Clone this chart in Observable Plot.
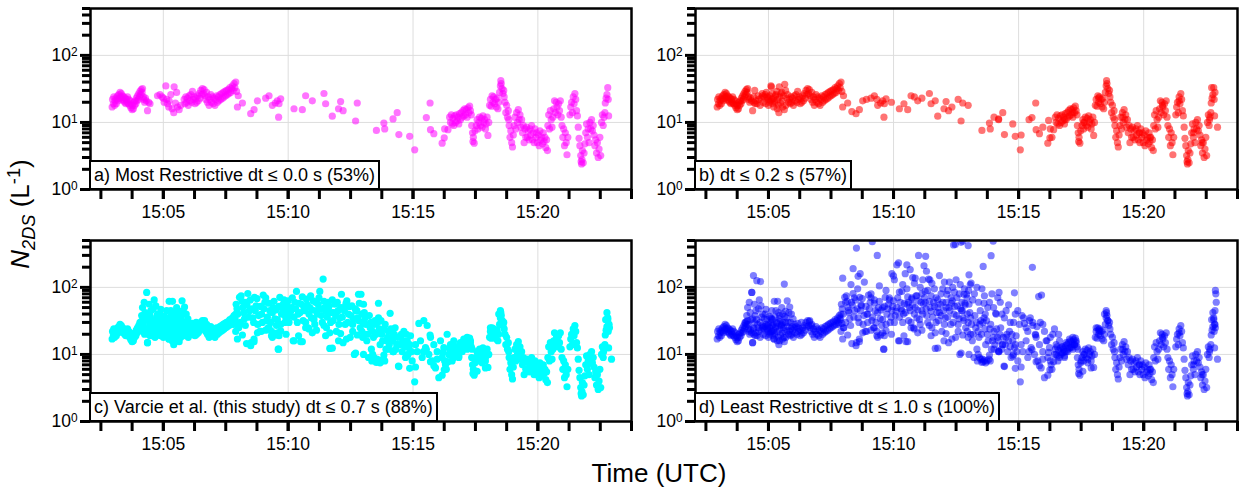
<!DOCTYPE html>
<html>
<head>
<meta charset="utf-8">
<script src="https://cdn.jsdelivr.net/npm/d3@7"></script>
<script src="https://cdn.jsdelivr.net/npm/@observablehq/plot@0.6"></script>
<style>
  html, body { margin: 0; padding: 0; background: white; }
  #fig { position: relative; width: 1240px; height: 492px; font-family: "Liberation Sans", Arial, sans-serif; color: black; overflow: hidden; background: white; }
  .panel { position: absolute; }
  .tag { position: absolute; background: white; border: 2px solid black; font-size: 18px; line-height: 22px; padding: 2px 3px; white-space: nowrap; }
  .ytitle { position: absolute; left: 22px; top: 214px; transform: translate(-50%, -50%) rotate(-90deg); font-size: 26px; white-space: nowrap; }
  .xtitle { position: absolute; left: 659px; top: 458px; transform: translateX(-50%); font-size: 26px; white-space: nowrap; }
  .panel svg g[aria-label*="tick"]:not([aria-label*="label"]),
  .panel svg g[aria-label*="tick"]:not([aria-label*="label"]) * { stroke: black !important; stroke-width: 3px !important; }
</style>
</head>
<body>
<div id="fig"></div>
<script>
// Time values are seconds after 15:00:00 UTC; values are N_2DS in L^-1
const panelLabels = [
  "a) Most Restrictive dt \u2264 0.0 s (53%)",
  "b) dt \u2264 0.2 s (57%)",
  "c) Varcie et al. (this study) dt \u2264 0.7 s (88%)",
  "d) Least Restrictive dt \u2264 1.0 s (100%)"
];
const panelColors = ["#ff00ff", "#ff0000", "#00ffff", "#0000ff"];
const panelOpacity = [0.55, 0.55, 1, 0.5];
const xTickLabels = ["15:05", "15:10", "15:15", "15:20"];
const yMajorTicks = [1, 10, 100];

// panel a points (most restrictive)
const ptsA = [
[177,17],[178,22],[180,19],[181,24],[183,18],[184,21],[186,23],[187,19],[189,22],[190,25],[192,21],[193,26],[195,23],[196,28],[198,24],[199,27],[201,22],[202,25],[204,21],[205,24],[207,20],[208,23],[210,19],[211,22],[213,20],[214,24],[216,19],[217,22],[219,18],[220,21],[222,16.5],[223,19],[225,15.5],[226,18],[228,16],[229,20],[231,18],[232,21],[234,19],[235,23],[237,21],[238,25],[240,22],[241,27],[243,24],[244,29],[246,26],[247,31],[249,28],[250,32],[252,24],[253,22],[255,20],[257,23],[259,21],[262,15],[265,20],[268,19],
[286,25],[292,26],[297,24],[300,23],[302,20],[306,35],[308,22],[310,19],[313,17],[314,21],[318,26],[321,16],[325,14],[326,34],[329,19.5],[332,28],[334,17],[338,15.5],[342,18],
[350,22],[352,19],[354,24],[356,20],[358,23],[360,18],[362,25],[364,21],[366,26],[368,20],[370,29],[372,22],[374,24],[376,19],[378,23],[380,20],[382,25],[384,21],[386,27],[388,23],[390,30],[392,26],[394,32],[396,27],[398,31],[400,25],[402,22],[404,28],[406,20],[408,24],[410,18],[412,22],[414,26],[416,20],[418,24],[420,19],[422,23],[424,18],[426,22],[428,25],[430,20],[432,24],[434,21],[436,26],[438,22],[440,27],[442,23],[444,28],[446,24],[448,29],[450,25],[452,30],[454,26],[456,31],[458,27],[460,33],[462,28],[464,32],[466,35],[468,30],[470,38],[472,33],[474,40],[476,29],[478,17],[480,25],
[490,19.5],[510,13.5],[518,15.5],[526,21],[546,23],[554,25],[562,18],[569,19.5],[574,21],[577,12],[578,19],[582,22.5],[614,16],[634,15.5],[642,25],[658,21],[686,27],[690,19],[706,12.4],[721,16],[726,20.5],[732,15],[762,10.5],[766,19.5],
[812,7.6],[830,9.8],[832,8],[852,11.3],[862,14],[866,6.6],[892,6.2],[904,3.9],[932,11.8],[941,19.5],[942,7.8],[950,6.8],[970,4.9],[975,5.9],[976,8],[984,7.8],
[988,12],[990,10],[992,13],[994,9.5],[996,11.5],[998,9],[1000,12.5],[1002,10],[1004,13],[1006,10.5],[1008,12],[1010,9.5],[1012,13.5],[1014,11],[1016,14],[1018,12],[1020,15],[1022,12.5],[1024,16],[1026,13],[1028,15.5],[1030,12],[1032,16.5],[1034,14],[1036,17.5],[1038,15],[1040,13],
[1041,9],[1043,7],[1044,5.2],[1045,6],[1047,4.9],[1049,7.5],
[1052,9],[1054,11],[1056,8],[1058,10],[1060,12],[1062,9],[1064,11.5],[1066,8.5],[1068,12.5],[1070,10],[1072,11],[1074,8],[1076,9.5],[1078,12],[1080,6.4],[1082,10],
[1084,18],[1086,22],[1088,17.5],[1090,25],[1092,20],[1094,24],[1096,19],[1098,22],[1100,17],[1102,23],[1104,16],[1106,20],[1108,28],[1110,35],[1111,42],[1112,38],[1114,32],[1116,27],[1118,30],[1119,24],[1121,20],[1123,14],[1125,18],[1127,12],[1129,15],[1130,11],
[1131,9],[1133,6],[1135,7.5],[1137,5],[1139,4.3],[1141,6.5],
[1143,9],[1145,12],[1147,8],[1149,14],[1151,10],[1153,15.5],[1155,11],[1157,13],[1159,8.5],
[1161,11],[1163,7],[1165,9],[1167,5],[1169,8],[1171,6],
[1173,8.5],[1175,6],[1177,7.5],[1179,5.5],[1181,8],[1183,6.5],[1185,9],[1187,5.5],[1189,7],[1191,5],[1193,8],[1195,6],
[1197,7],[1199,5],[1201,6.5],[1203,4.5],[1205,7.5],[1207,5.5],[1209,6],[1211,4.8],[1213,7],[1215,5.2],[1217,6],[1219,4.2],[1221,5.5],[1223,3.8],
[1224,9],[1226,13],[1228,8],[1230,15],[1232,11],[1234,8.5],[1236,12],
[1238,16],[1240,21],[1242,14],[1244,20],[1246,17],[1248,13],[1250,19],[1252,15],[1254,21],[1256,12],
[1258,9],[1260,6],[1262,8],[1264,4.5],[1266,7],[1268,5],[1270,3.3],[1272,6],
[1277,13],[1279,17],[1281,20],[1283,14],[1285,24],[1287,19],[1289,27],[1291,22],[1293,15],[1295,12.5],
[1297,8.5],[1299,5.8],
[1301,4.5],[1303,3.2],[1304,2.6],[1305,2.4],[1306,2.8],[1307,3.8],[1309,2.5],[1311,3.5],[1313,4.8],
[1315,7],[1317,9.5],[1319,6],[1321,8],[1323,5],[1325,10],[1327,8],[1329,11],[1331,7.5],[1333,9],
[1335,6.5],[1337,4.5],[1339,5.5],[1341,3.5],[1343,5],[1345,3],[1347,4],[1349,6],[1351,3.2],
[1353,10],[1355,13],[1357,9],[1359,12],[1361,14],[1362,19.5],[1364,23],[1366,26],[1368,33],[1369,22],[1370,12.5]
];

// extra points accepted at dt <= 0.2 s
const addB = [
[264,24],[267,30],[270,21],[272,19],[275,25],[277,22],[280,18],[282,23],[285,27],[287,20],[290,24],[293,19],[295,28],[298,22],[300,18],[303,25],[305,21],[307,34],[309,27],[312,23],[315,20],[317,25],[320,29],[322,22],[324,18],[327,24],[330,27],[333,21],[336,25],[339,37],[341,30],[344,23],[346,26],[348,20],
[500,14.5],[535,22],[560,22],[595,20],[625,19],[650,24],[668,23],[700,21],[740,17],[755,22],[779,18],[841,12],[852,11],[886,9.5],[906,6.5],[925,11],[958,8.5],[972,10.7],[980,6],
[1010,11],[1030,14],[1056,10],[1092,23],[1150,12],[1190,7],[1215,6],[1245,18],[1285,21],[1320,7],[1340,5],[1358,11],[1363,33],[1371,28],[1377,8.5]
];

// extra points accepted at dt <= 0.7 s
const addC = [
[250,50],[254,60],[260,84],[262,34],[262,15],[265,25],[266,56],[270,45],[274,28],[278,65],[282,53],[286,40],[290,34],[294,47],[298,27],[305,30],[306,22],[314,62],[314,17],[318,45],[322,62],[327,38],[327,16],[332,50],[335,30],[337,18],[339,22],[345,63],[351,51],[355,40],[359,34],[363,28],[371,25],[379,30],[399,32],[403,27],
[244,30],[248,38],[252,28],[256,42],[258,33],[268,38],[272,33],[276,48],[280,30],[284,36],[288,26],[292,40],[296,33],[300,28],[302,37],[308,45],[310,33],[312,28],[316,36],[320,30],[324,42],[328,31],[331,27],[334,40],[341,44],[343,35],[347,30],[349,42],[353,30],[357,26],
[469,28],[474,22],[475,56],[479,40],[481,25],[483,71],[487,75],[491,50],[495,34],[499,60],[503,81],[507,45],[511,15],[515,35],[518,17],[519,71],[523,53],[527,28],[532,22],[536,40],[540,77],[544,60],[548,32],[552,25],[556,45],[560,19],[564,50],[568,34],[572,27],[576,12],[580,71],[584,40],[588,56],[592,30],[596,45],[600,63],[604,38],
[472,35],[477,48],[485,30],[489,62],[493,42],[497,27],[501,55],[505,36],[509,65],[513,48],[517,30],[521,45],[525,68],[529,38],[534,52],[538,30],[542,48],[546,70],[550,36],[554,58],[558,30],[562,42],[566,62],[570,46],[574,33],[578,52],[582,28],[586,48],[590,65],[594,36],[598,52],[602,30],
[608,50],[612,16],[616,60],[620,87],[624,40],[630,15.5],[632,56],[636,32],[640,45],[644,67],[648,25],[652,50],[656,35],[660,63],[664,28],[668,45],[672,56],[676,87],[680,38],[684,133],[688,50],[692,25],[696,60],[700,12.3],[704,42],[708,32],[712,56],[716,22],[720,45],[724,35],[728,79],[733,50],[737,28],[741,63],[745,40],[749,18],[753,53],[757,34],[759,10],[763,45],[769,79],[773,25],[777,40],[781,56],[785,20],
[606,44],[610,70],[614,36],[618,48],[622,30],[626,58],[628,42],[634,72],[638,50],[642,30],[646,55],[650,40],[654,75],[658,46],[662,33],[666,60],[670,40],[674,70],[678,48],[682,30],[686,62],[690,44],[694,36],[698,52],[702,30],[706,65],[710,42],[714,38],[718,60],[722,28],[726,50],[730,36],[735,45],[739,58],[743,30],[747,52],[751,38],[755,28],[761,48],[767,35],[771,58],[779,30],[783,42],[787,28],
[765,45],[769,32],[775,79],[777,22],[781,10],[785,35],[789,16],[793,9],[797,25],[801,8],[805,18],[809,32],[813,8.5],[817,58],[817,35],[821,14],[825,20],[829,8.5],[833,28],[837,16],[841,22],[845,41],[849,18],[853,11],[857,25],[861,14],[865,6.7],[870,18],[874,11],[878,22],[882,9],[886,16],[890,12.6],[894,19],[898,8],
[791,20],[795,38],[799,30],[803,22],[807,28],[811,20],[815,30],[819,24],[823,32],[827,16],[831,24],[835,12],[839,18],[843,14],[847,24],[851,16],[855,20],[859,12],[863,18],[868,14],[872,20],[876,16],[880,13],[884,20],[888,10],[892,14],[896,11],
[800,12],[803,10],[806,9],[809,8.5],[815,7.8],[818,8.2],[821,7.5],[824,8],
[906,14],[910,11],[914,29],[918,16],[922,9],[926,32],[930,12.6],[934,27],[938,10],[942,18],[946,8],[950,14],[954,6.3],[958,11],[962,4.5],[966,16],[970,9],[974,12.6],[978,7],[982,20],[986,10],[990,14],[994,8],[998,16],[1002,10.6],[1006,13],[1010,9],[1014,15],[1018,11],[1022,17],[1026,12.6],[1030,18],[1034,14],[1038,16],[1042,12],
[1050,8],[1054,5.6],[1066,7.5],[1074,6.3],[1086,25],[1094,22],[1106,40],[1110,45],[1114,32],
[1366,42],[1368,35],[1370,28],[1372,25]
];

// extra points accepted at dt <= 1.0 s
const addD = [
[260,84],[264,150],[272,126],[281,122],[338,112],[478,137],[503,190],[511,385],[515,146],[520,160],[549,480],[561,300],[596,160],[600,148],[608,216],[612,232],[628,160],[632,216],[640,184],[652,137],[660,300],[673,210],[677,290],[679,174],[687,130],[744,430],[748,436],[762,470],[766,488],[779,420],[781,154],[786,116],[815,205],[834,297],[839,488],[853,84],[890,83],[933,199],[948,73],[955,77],
[485,60],[492,45],[498,110],[506,70],[514,95],[522,55],[530,120],[538,40],[546,80],[554,65],[566,105],[574,50],[582,90],[590,70],[602,130],[614,85],[622,110],[636,60],[646,140],[656,75],[664,100],[670,130],[682,90],[692,115],[702,70],[710,150],[718,95],[726,60],[734,120],[746,85],[752,70],[760,110],[772,55],[780,90],[790,65],[800,100],[808,45],[818,75],[826,50],[836,80],[846,40],[856,60],[866,35],[876,55],[888,30],[898,45],[908,38],[918,25],[928,35],[940,20],[952,30],[962,22],[976,18],[996,20],
[620,45],[632,95],[644,70],[650,115],[668,80],[676,60],[690,75],[698,95],[706,50],[714,80],[722,120],[730,90],[738,70],[742,100],[750,130],[758,80],[764,60],[770,95],[776,70],[784,110],[794,80],[804,60],[812,95],[820,40],[830,60],[840,50],[850,70],[860,40],[870,45],[880,30],[892,40],[902,28],[912,35],[922,22],[934,30],[944,26],[958,28],[968,16],[986,24],
[1371,45],[1372,90],[1373,80],[1374,60]
];

const ptsB = ptsA.concat(addB);
const ptsC = ptsB.concat(addC);
const ptsD = ptsC.concat(addD);
const panelData = [ptsA, ptsB, ptsC, ptsD];

const base = Date.UTC(2000, 0, 1, 15, 0, 0);
const toDate = s => new Date(base + s * 1000);
const parseHM = d3.utcParse("%H:%M");
const majorX = xTickLabels.map(t => { const p = parseHM(t); return toDate(p.getUTCHours() * 3600 + p.getUTCMinutes() * 60 - 15 * 3600); });
const minorX = d3.range(150, 1426, 75).map(toDate);
const minorY = [2,3,4,5,6,7,8,9,20,30,40,50,60,70,80,90,200,300,400,500];

const fig = document.getElementById("fig");
const layout = [
  {left: 0, top: 0, width: 640, ml: 90, mr: 9},
  {left: 640, top: 0, width: 600, ml: 55, mr: 3},
  {left: 0, top: 232, width: 640, ml: 90, mr: 9},
  {left: 640, top: 232, width: 600, ml: 55, mr: 3}
];

layout.forEach((L, i) => {
  const div = document.createElement("div");
  div.className = "panel";
  div.style.left = L.left + "px";
  div.style.top = L.top + "px";
  div.style.width = L.width + "px";
  div.style.height = "232px";
  const svg = Plot.plot({
    width: L.width, height: 232,
    marginLeft: L.ml, marginRight: L.mr, marginTop: 8, marginBottom: 43,
    style: {fontFamily: "'Liberation Sans', Arial, sans-serif", fontSize: "17px", color: "black", background: "transparent", overflow: "visible"},
    x: {type: "utc", domain: [toDate(125), toDate(1425)]},
    y: {type: "log", domain: [1, 500]},
    marks: [
      Plot.gridX({ticks: majorX, stroke: "#dddddd", strokeOpacity: 1}),
      Plot.gridY({ticks: [10, 100], stroke: "#dddddd", strokeOpacity: 1}),
      Plot.dot(panelData[i], {x: d => toDate(d[0]), y: d => d[1], r: 3.6, fill: panelColors[i], fillOpacity: panelOpacity[i], stroke: "none", clip: true}),
      Plot.axisX({ticks: minorX, tickSize: 10, strokeWidth: 3, tickFormat: () => "", label: null, ariaLabel: "x-axis tick minor"}),
      Plot.axisX({ticks: majorX, tickSize: 10, strokeWidth: 3, tickPadding: 6, tickFormat: d3.utcFormat("%H:%M"), label: null}),
      Plot.axisY({ticks: minorY, tickSize: 8, strokeWidth: 3, tickFormat: () => "", label: null}),
      Plot.axisY({ticks: yMajorTicks, tickSize: 10, strokeWidth: 3, tickPadding: 3, tickFormat: d => "10^" + Math.round(Math.log10(d)), label: null}),
      Plot.frame({stroke: "black", strokeWidth: 2.5})
    ]
  });
  const s = d3.select(svg);
  s.selectAll('g[aria-label*="tick"]').each(function() {
    const lab = this.getAttribute("aria-label") || "";
    if (lab.includes("label")) {
      d3.select(this).attr("font-size", 17.5).attr("fill", "black");
    } else {
      d3.select(this).attr("stroke-width", 3).attr("stroke", "black");
      d3.select(this).selectAll("line, path").attr("stroke-width", 3);
    }
  });
  s.selectAll("text").each(function() {
    const t = this.textContent;
    if (t.startsWith("10^")) {
      const e = t.slice(3);
      this.textContent = "10";
      const ts = document.createElementNS("http://www.w3.org/2000/svg", "tspan");
      ts.setAttribute("dy", "-0.45em");
      ts.setAttribute("font-size", "0.68em");
      ts.textContent = e;
      this.appendChild(ts);
    }
  });
  div.appendChild(svg);
  const tag = document.createElement("div");
  tag.className = "tag";
  tag.style.left = (L.ml - 1) + "px";
  tag.style.bottom = "42px";
  tag.textContent = panelLabels[i];
  div.appendChild(tag);
  fig.appendChild(div);
});

const yt = document.createElement("div");
yt.className = "ytitle";
yt.innerHTML = "<i>N</i><sub style='font-size:0.7em'><i>2DS</i></sub> (L<sup style='font-size:0.7em'>-1</sup>)";
fig.appendChild(yt);
const xt = document.createElement("div");
xt.className = "xtitle";
xt.textContent = "Time (UTC)";
fig.appendChild(xt);
</script>
</body>
</html>
